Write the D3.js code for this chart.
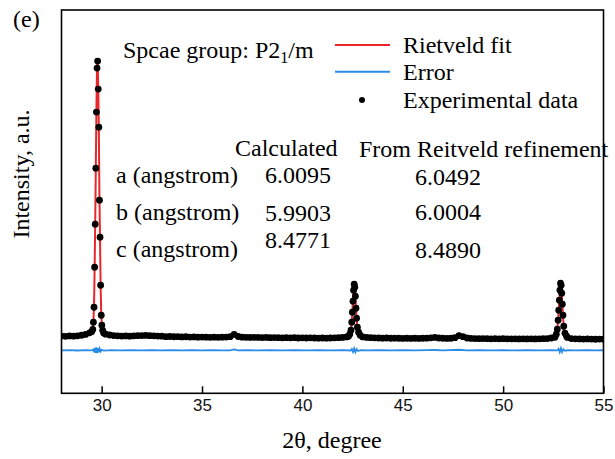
<!DOCTYPE html>
<html>
<head>
<meta charset="utf-8">
<script src="https://cdn.jsdelivr.net/npm/d3@7"></script>
<style>
  html, body { margin: 0; padding: 0; background: #fff; }
  svg { display: block; }
</style>
</head>
<body>
<svg id="chart" width="615" height="459"></svg>
<script>
// ---- Data (2θ in degrees, intensity in arbitrary units) ----
const observed = [
  [28.0,2090],[28.2,2080],[28.4,2095],[28.6,2085],[28.8,2100],[29.0,2120],[29.2,2150],[29.4,2210],
  [29.50,2250],[29.56,2330],[29.59,2595],[29.62,3143],[29.65,4605],[29.68,6177],[29.71,8224],[29.74,10270],
  [29.77,11878],[29.80,12134],[29.83,11111],[29.86,9722],[29.89,7054],[29.92,5702],[29.95,3947],[29.98,2851],
  [30.01,2485],[30.05,2300],[30.10,2200],
  [30.2,2160],[30.4,2130],[30.6,2110],[30.8,2100],[31.0,2090],[31.2,2095],[31.4,2085],[31.6,2100],[31.8,2105],
  [32.0,2110],[32.2,2115],[32.4,2105],[32.6,2100],[32.8,2090],[33.0,2085],[33.2,2070],[33.4,2075],[33.6,2065],
  [33.8,2070],[34.0,2060],[34.2,2065],[34.4,2055],[34.6,2060],[34.8,2050],[35.0,2055],[35.2,2050],[35.4,2045],
  [35.6,2050],[35.8,2045],[36.0,2050],[36.2,2055],[36.4,2070],[36.6,2150],[36.8,2075],[37.0,2050],[37.2,2045],
  [37.4,2040],[37.6,2045],[37.8,2040],[38.0,2035],[38.2,2040],[38.4,2030],[38.6,2035],[38.8,2030],[39.0,2025],
  [39.2,2030],[39.4,2025],[39.6,2030],[39.8,2020],[40.0,2025],[40.2,2020],[40.4,2025],[40.6,2020],[40.8,2015],
  [41.0,2020],[41.2,2015],[41.4,2020],[41.6,2025],[41.8,2030],[42.0,2040],[42.2,2060],
  [42.30,2083],[42.36,2156],[42.42,2303],[42.46,2595],[42.49,2961],[42.52,3363],[42.55,3765],[42.58,3984],
  [42.61,3874],[42.64,3545],[42.67,3107],[42.70,2741],[42.74,2412],[42.80,2230],[42.88,2120],
  [43.0,2060],[43.2,2040],[43.4,2030],[43.6,2025],[43.8,2020],[44.0,2015],[44.2,2020],[44.4,2010],[44.6,2015],
  [44.8,2010],[45.0,2005],[45.2,2010],[45.4,2005],[45.6,2010],[45.8,2005],[46.0,2010],[46.2,2015],[46.4,2025],
  [46.6,2040],[46.8,2020],[47.0,2010],[47.2,2005],[47.4,2010],[47.6,2030],[47.8,2110],[48.0,2070],[48.2,2020],
  [48.4,2005],[48.6,2000],[48.8,1995],[49.0,2000],[49.2,1995],[49.4,1990],[49.6,1995],[49.8,1990],[50.0,1995],
  [50.2,1990],[50.4,1985],[50.6,1990],[50.8,1985],[51.0,1990],[51.2,1985],[51.4,1990],[51.6,1985],[51.8,1990],
  [52.0,1995],[52.2,2000],[52.4,2020],
  [52.58,2047],[52.65,2156],[52.70,2339],[52.74,2668],[52.77,3034],[52.80,3399],[52.83,3765],[52.86,4020],
  [52.89,3947],[52.92,3655],[52.95,3253],[52.98,2851],[53.02,2449],[53.08,2193],[53.16,2083],
  [53.2,2040],[53.4,2000],[53.6,1990],[53.8,1985],[54.0,1980],[54.2,1985],[54.4,1980],[54.6,1975],[54.8,1980],[55.0,1975]
];

const rietveldFit = [
  [28.0,2085],[29.0,2115],[29.4,2200],[29.50,2260],[29.56,2360],[29.59,2620],[29.62,3180],[29.65,4560],
  [29.68,6250],[29.71,8300],[29.74,10350],[29.77,11950],[29.80,12200],[29.83,11200],[29.86,9650],[29.89,7150],
  [29.92,5600],[29.95,3900],[29.98,2880],[30.01,2470],[30.05,2290],[30.10,2200],[30.2,2155],[31.0,2090],
  [32.0,2105],[33.0,2080],[34.0,2060],[35.0,2050],[36.4,2065],[36.6,2130],[36.8,2070],[38.0,2035],[40.0,2022],
  [42.0,2040],[42.2,2060],[42.30,2090],[42.36,2160],[42.42,2310],[42.46,2610],[42.49,2980],[42.52,3380],
  [42.55,3760],[42.58,3960],[42.61,3860],[42.64,3530],[42.67,3090],[42.70,2730],[42.74,2400],[42.80,2225],
  [42.88,2115],[43.0,2055],[45.0,2007],[46.6,2035],[47.8,2095],[48.0,2065],[50.0,1992],[52.0,1995],[52.4,2020],
  [52.58,2050],[52.65,2160],[52.70,2350],[52.74,2680],[52.77,3050],[52.80,3410],[52.83,3770],[52.86,4000],
  [52.89,3930],[52.92,3640],[52.95,3240],[52.98,2840],[53.02,2440],[53.08,2190],[53.16,2080],[53.2,2040],
  [54.0,1982],[55.0,1976]
];

const errorCurve = [
  [28.0,1570],[28.4,1578],[28.8,1564],[29.2,1576],[29.5,1566],[29.58,1600],[29.62,1500],[29.66,1660],
  [29.70,1480],[29.74,1680],[29.78,1470],[29.82,1650],[29.86,1500],[29.90,1630],[29.95,1530],[30.0,1590],
  [30.1,1562],[30.5,1576],[31.0,1566],[31.5,1576],[32.0,1567],[32.5,1575],[33.0,1566],[33.5,1574],
  [34.0,1567],[34.5,1575],[35.0,1566],[35.5,1574],[36.0,1568],[36.4,1570],[36.6,1605],[36.8,1568],
  [37.2,1576],[37.8,1566],[38.4,1575],[39.0,1567],[39.6,1576],[40.2,1566],[40.8,1574],[41.4,1567],
  [42.0,1575],[42.4,1564],[42.46,1620],[42.52,1510],[42.58,1640],[42.64,1505],[42.70,1615],[42.78,1545],
  [42.9,1572],[43.2,1566],[43.8,1575],[44.4,1567],[45.0,1574],[45.6,1566],[46.2,1575],[46.6,1582],
  [47.0,1566],[47.8,1590],[48.2,1566],[48.8,1575],[49.4,1567],[50.0,1574],[50.6,1566],[51.2,1575],
  [51.8,1567],[52.4,1574],[52.7,1566],[52.76,1625],[52.82,1505],[52.88,1645],[52.94,1510],[53.0,1610],
  [53.08,1550],[53.2,1572],[53.6,1566],[54.2,1575],[54.6,1567],[55.0,1572]
];

const xTicks = [30, 35, 40, 45, 50, 55];
const xDomain = [28, 55];
const yDomain = [0, 14000];

const legendItems = ["Rietveld fit", "Error", "Experimental data"];
const tableHeaders = ["Calculated", "From Reitveld refinement"];
const tableRows = ["a (angstrom)", "b (angstrom)", "c (angstrom)"];
const calculatedValues = ["6.0095", "5.9903", "8.4771"];
const refinedValues = ["6.0492", "6.0004", "8.4890"];

// ---- Drawing ----
const svg = d3.select("#chart");
const serif = "'Liberation Serif', 'Times New Roman', serif";
const sans = "'Liberation Sans', Arial, sans-serif";
const RED = "#e8262a", BLUE = "#2b8ce8";

const plot = { left: 61.5, right: 603.5, top: 10, bottom: 393.3 };
const x = d3.scaleLinear().domain(xDomain).range([plot.left, plot.right]);
const y = d3.scaleLinear().domain(yDomain).range([plot.bottom, plot.top]);

svg.append("rect").attr("width", 615).attr("height", 459).attr("fill", "#fff");

svg.append("defs").append("clipPath").attr("id", "clip")
  .append("rect").attr("x", plot.left).attr("y", plot.top)
  .attr("width", plot.right - plot.left).attr("height", plot.bottom - plot.top);

const g = svg.append("g").attr("clip-path", "url(#clip)");
const line = d3.line().x(d => x(d[0])).y(d => y(d[1]));

// Error curve
g.append("path").datum(errorCurve).attr("d", line)
  .attr("fill", "none").attr("stroke", BLUE).attr("stroke-width", 1.8);

// Rietveld fit
g.append("path").datum(rietveldFit).attr("d", line)
  .attr("fill", "none").attr("stroke", RED).attr("stroke-width", 2);

// Experimental points
g.selectAll("circle.obs").data(observed).enter().append("circle")
  .attr("class", "obs").attr("cx", d => x(d[0])).attr("cy", d => y(d[1]))
  .attr("r", 3.4).attr("fill", "#000");

// Axis
const xAxis = d3.axisBottom(x).tickValues(xTicks).tickSizeInner(-7).tickSizeOuter(0).tickPadding(6);
const ax = svg.append("g").attr("transform", `translate(0,${plot.bottom})`).call(xAxis);
ax.select(".domain").remove();
ax.selectAll(".tick line").attr("stroke", "#000").attr("stroke-width", 1.5);
ax.selectAll(".tick text").attr("font-family", sans).attr("font-size", 17).attr("fill", "#111");

// Frame
svg.append("rect").attr("x", plot.left).attr("y", plot.top)
  .attr("width", plot.right - plot.left).attr("height", plot.bottom - plot.top)
  .attr("fill", "none").attr("stroke", "#000").attr("stroke-width", 1.6);

// Axis titles
svg.append("text").attr("x", 332).attr("y", 448).attr("text-anchor", "middle")
  .attr("font-family", serif).attr("font-size", 24).text("2θ, degree");
svg.append("text").attr("transform", "translate(29,174) rotate(-90)").attr("text-anchor", "middle")
  .attr("font-family", serif).attr("font-size", 24).text("Intensity, a.u.");

// Panel label
svg.append("text").attr("x", 13).attr("y", 26.5)
  .attr("font-family", serif).attr("font-size", 24).text("(e)");

// Space group
const sg = svg.append("text").attr("x", 123).attr("y", 58)
  .attr("font-family", serif).attr("font-size", 24);
sg.append("tspan").text("Spcae group: P2");
sg.append("tspan").attr("dy", 5).attr("font-size", 16).text("1");
sg.append("tspan").attr("dy", -5).text("/m");

// Legend
const legY = [45, 71.7, 100];
const legTextY = [53.3, 80, 108.3];
svg.append("line").attr("x1", 335).attr("x2", 390).attr("y1", legY[0]).attr("y2", legY[0])
  .attr("stroke", RED).attr("stroke-width", 2);
svg.append("line").attr("x1", 335).attr("x2", 390).attr("y1", legY[1]).attr("y2", legY[1])
  .attr("stroke", BLUE).attr("stroke-width", 2);
svg.append("circle").attr("cx", 362).attr("cy", legY[2]).attr("r", 3).attr("fill", "#000");
svg.selectAll("text.leg").data(legendItems).enter().append("text")
  .attr("class", "leg").attr("x", 403).attr("y", (d, i) => legTextY[i])
  .attr("font-family", serif).attr("font-size", 24).text(d => d);

// Table
const txt = (s, xx, yy) => svg.append("text").attr("x", xx).attr("y", yy)
  .attr("font-family", serif).attr("font-size", 24).text(s);
txt(tableHeaders[0], 235, 156);
txt(tableHeaders[1], 359, 156.7);
const rowY = [183, 220, 256.7];
const calcY = [183, 220.7, 248.3];
const refY = [185, 220, 258.3];
tableRows.forEach((r, i) => txt(r, 116, rowY[i]));
calculatedValues.forEach((v, i) => txt(v, 265, calcY[i]));
refinedValues.forEach((v, i) => txt(v, 415, refY[i]));
</script>
</body>
</html>
